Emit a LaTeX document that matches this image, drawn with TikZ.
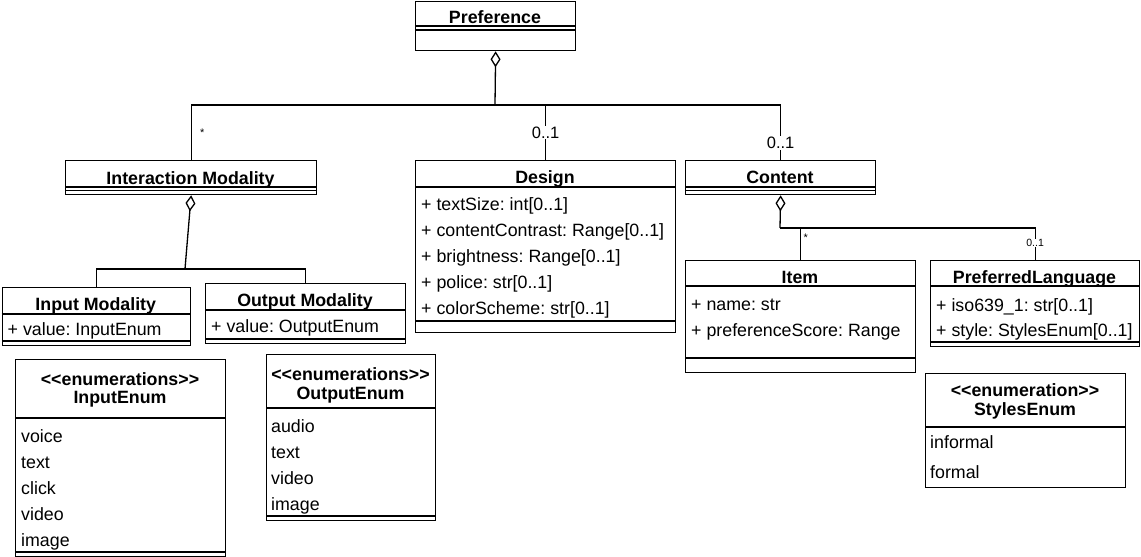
\documentclass[tikz,border=0pt]{standalone}
\usepackage{fontspec}
\setmainfont{Liberation Sans}[Ligatures=TeXOff]
\frenchspacing
\usetikzlibrary{arrows.meta}

\tikzset{
  umlbox/.style={draw, line width=1.3pt, anchor=north west, inner sep=0pt},
  divider/.style={line width=1.3pt},
  conn/.style={line width=1.3pt},
  aggr/.style={conn, {Diamond[open,length=16pt,width=10pt]}-},
  txt/.style={inner sep=0pt, text height=12.8pt, text depth=0pt, font=\fontsize{17.8}{20}\selectfont},
  ttl/.style={txt, font=\fontsize{17.8}{20}\selectfont\bfseries},
  attr/.style={txt, anchor=west},
  mult/.style={fill=white, inner sep=1pt, font=\fontsize{16.5}{18}\selectfont},
  smallmult/.style={fill=white, inner sep=0.5pt, font=\fontsize{10.5}{12}\selectfont},
  mstar/.style={inner sep=0pt, font=\fontsize{11}{12}\selectfont},
}

\begin{document}
\begin{tikzpicture}[x=1pt, y=-1pt]
  \useasboundingbox (0,0) rectangle (1141,557);

  % class boxes
  \node[umlbox, minimum width=160pt, minimum height=49.3pt] (pref) at (415,0.7) {};
  \node[umlbox, minimum width=251pt, minimum height=34pt] (im) at (65,160) {};
  \node[umlbox, minimum width=260pt, minimum height=172pt] (design) at (415,160) {};
  \node[umlbox, minimum width=190pt, minimum height=34pt] (content) at (685,160) {};
  \node[umlbox, minimum width=188.5pt, minimum height=58pt] (inmod) at (1.5,287) {};
  \node[umlbox, minimum width=200pt, minimum height=60pt] (outmod) at (205,283) {};
  \node[umlbox, minimum width=230pt, minimum height=112pt] (item) at (685,260) {};
  \node[umlbox, minimum width=209pt, minimum height=86pt] (plang) at (930,260) {};
  \node[umlbox, minimum width=210pt, minimum height=197pt] (inenum) at (15,358.5) {};
  \node[umlbox, minimum width=169pt, minimum height=166pt] (outenum) at (266,354) {};
  \node[umlbox, minimum width=200pt, minimum height=114.5pt] (stenum) at (925,372.5) {};

  % compartment lines
  \foreach \xa/\xb/\yy in {415/575/26, 415/575/30, 65/316/187, 65/316/190.5,
      415/675/187, 415/675/321, 685/875/187, 685/875/190.5,
      1.5/190/314, 1.5/190/341, 205/405/310, 205/405/339,
      685/915/286, 685/915/358, 930/1139/286, 930/1139/342,
      15/225/418, 15/225/552, 266/435/408, 266/435/516, 925/1125/427}
    \draw[divider] (\xa,\yy) -- (\xb,\yy);

  % titles
  \node[ttl] (pref-t) at (495,17.5) {Preference};
  \node[ttl] (im-t) at (190.5,178) {Interaction Modality};
  \node[ttl] (design-t) at (545,177.5) {Design};
  \node[ttl] (content-t) at (780,177) {Content};
  \node[ttl] (inmod-t) at (95.75,304) {Input Modality};
  \node[ttl] (outmod-t) at (305,300) {Output Modality};
  \node[ttl] (item-t) at (800,277.5) {Item};
  \node[ttl] (plang-t) at (1034.5,277.5) {PreferredLanguage};
  \node[ttl] (inenum-s) at (120,379) {<<enumerations>>};
  \node[ttl] (inenum-t) at (120,397) {InputEnum};
  \node[ttl] (outenum-s) at (350.5,374.5) {<<enumerations>>};
  \node[ttl] (outenum-t) at (350.5,393.5) {OutputEnum};
  \node[ttl] (stenum-s) at (1025,390.5) {<<enumeration>>};
  \node[ttl] (stenum-t) at (1025,409.5) {StylesEnum};

  % attributes
  \foreach \t [count=\i] in {{+ textSize: int[0..1]}, {+ contentContrast: Range[0..1]},
      {+ brightness: Range[0..1]}, {+ police: str[0..1]}, {+ colorScheme: str[0..1]}}
    \node[attr] (design-\i) at (421,{204+26*(\i-1)}) {\t};
  \node[attr] (inmod-1) at (7.5,329.5) {+ value: InputEnum};
  \node[attr] (outmod-1) at (211,326.5) {+ value: OutputEnum};
  \node[attr] (item-1) at (691,304.5) {+ name: str};
  \node[attr] (item-2) at (691,330) {+ preferenceScore: Range};
  \node[attr] (plang-1) at (936,305.5) {+ iso639\_1: str[0..1]};
  \node[attr] (plang-2) at (936,330) {+ style: StylesEnum[0..1]};

  % enumeration values
  \foreach \t [count=\i] in {voice, text, click, video, image}
    \node[attr] (inenum-\i) at (21,{435.6+26*(\i-1)}) {\t};
  \foreach \t [count=\i] in {audio, text, video, image}
    \node[attr] (outenum-\i) at (271,{425.6+26*(\i-1)}) {\t};
  \node[attr] (stenum-1) at (930,441.6) {informal};
  \node[attr] (stenum-2) at (930,471.6) {formal};

  % aggregations
  \coordinate (ptrunk) at (495,105);
  \draw[aggr] (pref.south) -- (ptrunk);
  \draw[conn] (ptrunk) -| (im.north) node[mstar, pos=0.755, xshift=11pt] {*};
  \draw[conn] (ptrunk) -| (design.north) node[mult, pos=0.75] {0..1};
  \draw[conn] (ptrunk) -| (content.north) node[mult, pos=0.845] {0..1};

  \coordinate (imjoin) at (185,269);
  \draw[aggr] (im.south) -- (imjoin);
  \draw[conn] (imjoin) -| (inmod.north);
  \draw[conn] (imjoin) -| (outmod.north);

  \coordinate (cjoin) at (780,228);
  \draw[aggr] (content.south) -- (cjoin);
  \draw[conn] (cjoin) -| (plang.north) node[smallmult, pos=0.73] {0..1};
  \draw[conn] (cjoin -| item.north) -- (item.north) node[mstar, pos=0.3, xshift=5pt] {*};
\end{tikzpicture}
\end{document}
